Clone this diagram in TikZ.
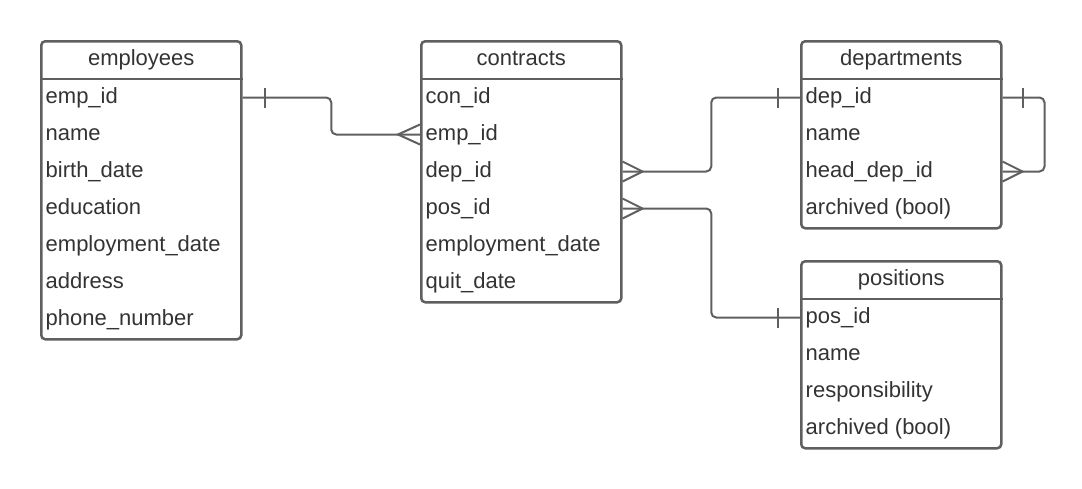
\documentclass[tikz,border=0pt]{standalone}
\usepackage{fontspec}
\setmainfont{Liberation Sans}
\usetikzlibrary{calc}
\definecolor{erline}{HTML}{5F5F5F}
\definecolor{ertext}{HTML}{333333}

\begin{document}
\begin{tikzpicture}[x=1pt,y=1pt,
		tablebox/.style={draw=erline, line width=2.5pt, rounded corners=4pt, minimum width=200pt, anchor=north west, inner sep=0pt},
		headtext/.style={text=ertext, font=\fontsize{22}{26}\selectfont, text height=16pt, text depth=5pt, inner sep=0pt},
		rowtext/.style={headtext, anchor=west},
		sepline/.style={draw=erline, line width=2.5pt},
		conn/.style={draw=erline, line width=2pt, rounded corners=5pt},
		endmark/.style={draw=erline, line width=2pt}]
		\useasboundingbox (0,0) rectangle (1082,-488);
		% tables
		\node[tablebox, minimum height=298pt] (emp) at (40,-40) {};
		\node[tablebox, minimum height=261pt] (con) at (420,-40) {};
		\node[tablebox, minimum height=187pt] (dep) at (800,-40) {};
		\node[tablebox, minimum height=187pt] (pos) at (800,-260) {};
		\foreach \t in {emp,con,dep,pos}
			\draw[sepline] ($(\t.north west)+(0,-39)$) -- ($(\t.north east)+(0,-39)$);
		\node[headtext] (emp-head) at ($(emp.north)+(0,-19.5)$) {employees};
		\node[headtext] (con-head) at ($(con.north)+(0,-19.5)$) {contracts};
		\node[headtext] (dep-head) at ($(dep.north)+(0,-19.5)$) {departments};
		\node[headtext] (pos-head) at ($(pos.north)+(0,-19.5)$) {positions};
		% rows
		\foreach \key/\txt [count=\i] in {empid/emp\_id, name/name, birth/birth\_date, edu/education, empdate/employment\_date, addr/address, phone/phone\_number}
			\node[rowtext] (emp-\key) at ($(emp.north west)+(5.5,{-20.5-37*\i})$) {\txt};
		\foreach \key/\txt [count=\i] in {conid/con\_id, empid/emp\_id, depid/dep\_id, posid/pos\_id, empdate/employment\_date, quit/quit\_date}
			\node[rowtext] (con-\key) at ($(con.north west)+(5.5,{-20.5-37*\i})$) {\txt};
		\foreach \key/\txt [count=\i] in {depid/dep\_id, name/name, head/head\_dep\_id, arch/archived (bool)}
			\node[rowtext] (dep-\key) at ($(dep.north west)+(5.5,{-20.5-37*\i})$) {\txt};
		\foreach \key/\txt [count=\i] in {posid/pos\_id, name/name, resp/responsibility, arch/archived (bool)}
			\node[rowtext] (pos-\key) at ($(pos.north west)+(5.5,{-20.5-37*\i})$) {\txt};
		% connector ends
		\coordinate (e1) at (emp.east |- emp-empid);
		\coordinate (c1) at (con.west |- con-empid);
		\coordinate (c2) at (con.east |- con-depid);
		\coordinate (c3) at (con.east |- con-posid);
		\coordinate (d1) at (dep.west |- dep-depid);
		\coordinate (d2) at (dep.east |- dep-depid);
		\coordinate (d3) at (dep.east |- dep-head);
		\coordinate (p1) at (pos.west |- pos-posid);
		\coordinate (m1) at ($(emp.east)!0.5!(con.west)$);
		\coordinate (m2) at ($(con.east)!0.5!(dep.west)$);
		% connectors
		\draw[conn] (e1) -| (m1 |- c1) -- (c1);
		\draw[conn] (c2) -| (m2 |- d1) -- (d1);
		\draw[conn] (c3) -| (m2 |- p1) -- (p1);
		\draw[conn] (d2) -- ++(42,0) |- (d3);
		% one marks
		\draw[endmark] ($(e1)+(22,-10)$) -- ($(e1)+(22,10)$);
		\draw[endmark] ($(d1)+(-22,-10)$) -- ($(d1)+(-22,10)$);
		\draw[endmark] ($(p1)+(-22,-10)$) -- ($(p1)+(-22,10)$);
		\draw[endmark] ($(d2)+(20,-10)$) -- ($(d2)+(20,10)$);
		% many marks
		\draw[endmark] ($(c1)+(0,10)$) -- ($(c1)+(-22,0)$) -- ($(c1)+(0,-10)$);
		\draw[endmark] ($(c2)+(0,10)$) -- ($(c2)+(20,0)$) -- ($(c2)+(0,-10)$);
		\draw[endmark] ($(c3)+(0,10)$) -- ($(c3)+(20,0)$) -- ($(c3)+(0,-10)$);
		\draw[endmark] ($(d3)+(0,10)$) -- ($(d3)+(20,0)$) -- ($(d3)+(0,-10)$);
	\end{tikzpicture}
\end{document}
